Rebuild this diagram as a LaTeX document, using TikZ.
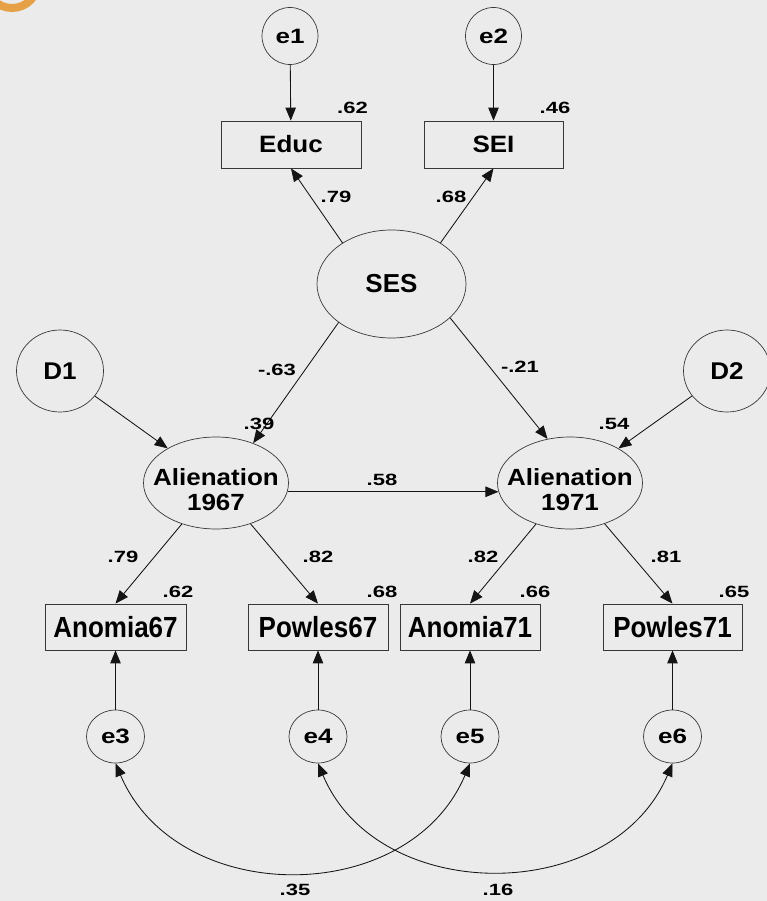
\documentclass[tikz,border=0pt]{standalone}
\usepackage{fontspec}
\setmainfont{Liberation Sans}
\usetikzlibrary{shapes.geometric,arrows.meta}
\definecolor{bg}{RGB}{235,235,235}
\definecolor{ringc}{RGB}{230,160,70}
\definecolor{ln}{RGB}{20,20,20}
\definecolor{ol}{RGB}{55,55,55}
\newcommand{\vsc}[2]{\scalebox{1}[#1]{#2}}
\begin{document}
\begin{tikzpicture}[x=1pt,y=-1pt,
  every node/.style={font=\bfseries\fontsize{26}{25}\selectfont, text=black},
  obs/.style={draw=ol, line width=0.8pt, rectangle, minimum height=46pt, inner sep=0pt},
  lat/.style={draw=ol, line width=0.7pt, ellipse, inner sep=0pt},
  txt/.style={inner sep=0pt, align=center},
  coef/.style={font=\bfseries\fontsize{22}{22}\selectfont, inner sep=0pt},
  arr/.style={draw=ln, line width=0.85pt, -{Triangle[length=13pt,width=10.5pt]}},
  cov/.style={draw=ln, line width=0.85pt, {Triangle[length=13pt,width=10.5pt]}-{Triangle[length=13pt,width=10.5pt]}}
]
\useasboundingbox (0,0) rectangle (767,901);
\fill[bg] (0,0) rectangle (767,901);
\begin{scope}
  \clip (0,0) rectangle (767,901);
  \draw[ringc, line width=8pt] (12,-18) circle (26);
\end{scope}

% error terms (top)
\node[lat, minimum width=56pt, minimum height=57pt] (e1) at (290,36) {\vsc{0.8}{e1}};
\node[lat, minimum width=56pt, minimum height=57pt] (e2) at (493.5,36) {\vsc{0.8}{e2}};
% indicators (top)
\node[obs, minimum width=140pt, minimum height=47pt] (educ) at (291,144.5) {\vsc{0.91}{Educ}};
\node[obs, minimum width=139pt, minimum height=47pt] (sei) at (493.5,144.5) {\vsc{0.91}{SEI}};
% SES
\node[lat, minimum width=149pt, minimum height=108pt] (ses) at (391.5,284) {SES};
% disturbances
\node[lat, minimum width=87pt, minimum height=82pt] (d1) at (60,371) {\vsc{0.93}{D1}};
\node[lat, minimum width=87pt, minimum height=82pt] (d2) at (727,371) {\vsc{0.93}{D2}};
% alienation latents
\node[lat, minimum width=145pt, minimum height=92pt] (a67) at (216,483) {};
\node[txt] (a67t) at (216,490) {\vsc{0.9}{Alienation}\\\vsc{0.9}{1967}};
\node[lat, minimum width=145pt, minimum height=92pt] (a71) at (570,483) {};
\node[txt] (a71t) at (570,490) {\vsc{0.9}{Alienation}\\\vsc{0.9}{1971}};
% indicators (bottom)
\node[obs, minimum width=141pt] (an67) at (115.5,627) {\vsc{1.12}{Anomia67}};
\node[obs, minimum width=140pt] (po67) at (318,627) {\vsc{1.12}{Powles67}};
\node[obs, minimum width=140pt] (an71) at (470,627) {\vsc{1.12}{Anomia71}};
\node[obs, minimum width=139pt] (po71) at (672.5,627) {\vsc{1.12}{Powles71}};
% error terms (bottom)
\node[lat, minimum width=58pt, minimum height=53pt] (e3) at (115.5,736.5) {\vsc{0.8}{e3}};
\node[lat, minimum width=58pt, minimum height=53pt] (e4) at (318,736.5) {\vsc{0.8}{e4}};
\node[lat, minimum width=58pt, minimum height=53pt] (e5) at (470,736.5) {\vsc{0.8}{e5}};
\node[lat, minimum width=58pt, minimum height=53pt] (e6) at (672.5,736.5) {\vsc{0.8}{e6}};

% paths
\draw[arr] (e1) -- (educ);
\draw[arr] (e2) -- (sei);
\draw[arr] (ses.140) -- (educ.south);
\draw[arr] (ses.40) -- (sei.south);
\draw[arr] (ses.216) -- (a67.47);
\draw[arr] (ses.330) -- (a71.117);
\draw[arr] (d1) -- (a67);
\draw[arr] (d2) -- (a71);
\draw[arr] (a67.-7.3) -- (a71.187.3);
\draw[arr] (a67) -- (an67.north);
\draw[arr] (a67) -- (po67.north);
\draw[arr] (a71) -- (an71.north);
\draw[arr] (a71) -- (po71.north);
\draw[arr] (e3) -- (an67);
\draw[arr] (e4) -- (po67);
\draw[arr] (e5) -- (an71);
\draw[arr] (e6) -- (po71);
\draw[cov] (e3.south) .. controls (177,908) and (409,908) .. (e5.south);
\draw[cov] (e4.south) .. controls (378,906) and (612,906) .. (e6.south);

% coefficients
\node[coef] (c1) at (352.5,107.5) {\vsc{0.74}{.62}};
\node[coef] (c2) at (555,107.5) {\vsc{0.74}{.46}};
\node[coef] (c3) at (336,197) {\vsc{0.74}{.79}};
\node[coef] (c4) at (451,197) {\vsc{0.74}{.68}};
\node[coef] (c5) at (277,370) {\vsc{0.74}{-.63}};
\node[coef] (c6) at (520,367) {\vsc{0.74}{-.21}};
\node[coef] (c7) at (259,424) {\vsc{0.74}{.39}};
\node[coef] (c8) at (614,424) {\vsc{0.74}{.54}};
\node[coef] (c9) at (382,480) {\vsc{0.74}{.58}};
\node[coef] (c10) at (123,557) {\vsc{0.74}{.79}};
\node[coef] (c11) at (318,557) {\vsc{0.74}{.82}};
\node[coef] (c12) at (483,557) {\vsc{0.74}{.82}};
\node[coef] (c13) at (666,557) {\vsc{0.74}{.81}};
\node[coef] (c14) at (178,592) {\vsc{0.74}{.62}};
\node[coef] (c15) at (382,592) {\vsc{0.74}{.68}};
\node[coef] (c16) at (535,592) {\vsc{0.74}{.66}};
\node[coef] (c17) at (734,592) {\vsc{0.74}{.65}};
\node[coef] (c18) at (295,890) {\vsc{0.74}{.35}};
\node[coef] (c19) at (498,890) {\vsc{0.74}{.16}};
\end{tikzpicture}
\end{document}
